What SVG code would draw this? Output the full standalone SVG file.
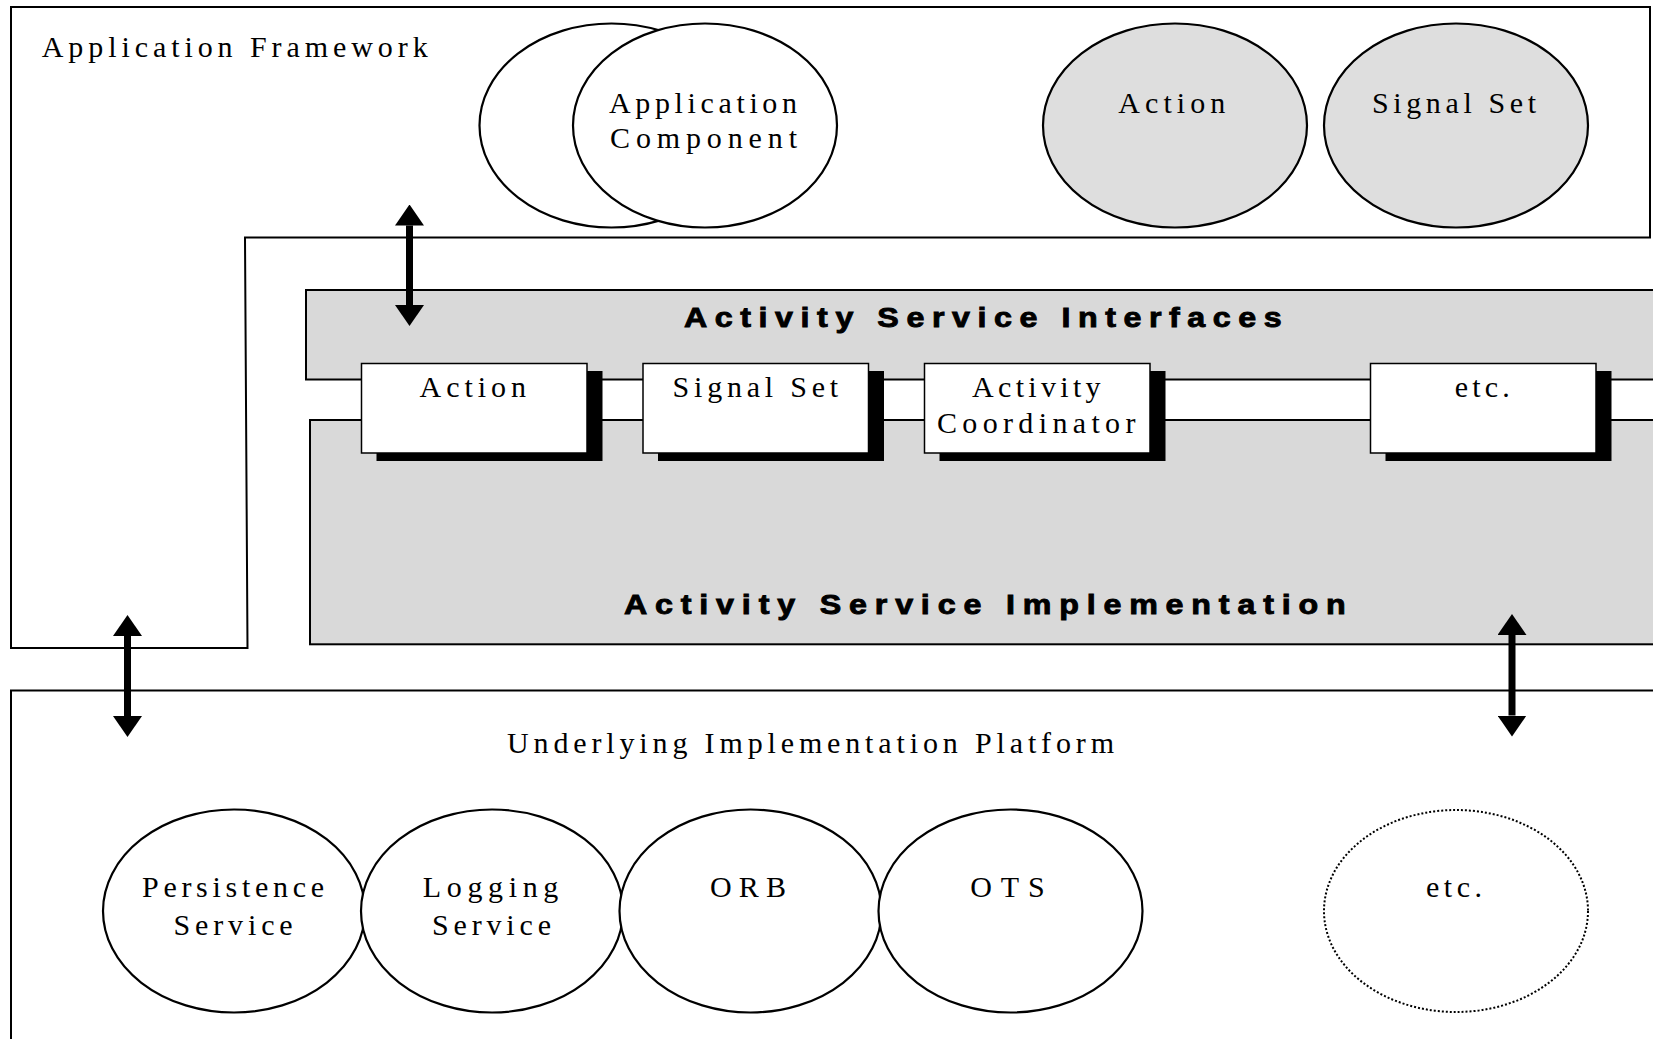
<svg xmlns="http://www.w3.org/2000/svg" width="1653" height="1039" viewBox="0 0 1653 1039">
<style>
.ln{fill:none;stroke:#000;stroke-width:2}
.ell{fill:#fff;stroke:#000;stroke-width:2.2}
.gell{fill:#dedede;stroke:#000;stroke-width:2.2}
.dot{fill:#fff;stroke:#000;stroke-width:2;stroke-dasharray:2 2}
.gray{fill:#d9d9d9;stroke:#000;stroke-width:2}
.box{fill:#fff;stroke:#000;stroke-width:1.5}
.shd{fill:#000}
.t{font-family:"Liberation Serif","Times New Roman",serif;font-size:30px;fill:#000}
.b{font-family:"Liberation Sans",Arial,sans-serif;font-size:28px;font-weight:bold;fill:#000;stroke:#000;stroke-width:0.9}
.arr{stroke:#000;stroke-width:7;fill:none}
</style>
<defs>
<marker id="ah" viewBox="0 0 21 29" refX="0" refY="14.5" markerWidth="21" markerHeight="29" markerUnits="userSpaceOnUse" orient="auto-start-reverse">
<path d="M0,0 L21,14.5 L0,29 Z" fill="#000"/>
</marker>
</defs>
<rect width="1653" height="1039" fill="#fff"/>

<g id="application-framework">
<path class="ln" d="M11,7 H1650 V237.5 H245 L247.5,648 H11 Z"/>
<text class="t" x="41.7" y="56.7" textLength="386" lengthAdjust="spacing">Application Framework</text>
</g>

<g id="application-component">
<ellipse class="ell" cx="611.5" cy="125.5" rx="132" ry="102"/>
<ellipse class="ell" cx="705" cy="125.5" rx="132" ry="102"/>
<text class="t" x="609" y="112.5" textLength="188" lengthAdjust="spacing">Application</text>
<text class="t" x="610" y="147.7" textLength="187" lengthAdjust="spacing">Component</text>
</g>

<g id="action-top">
<ellipse class="gell" cx="1175" cy="125.5" rx="132" ry="102"/>
<text class="t" x="1118.3" y="112.7" textLength="107" lengthAdjust="spacing">Action</text>
</g>

<g id="signalset-top">
<ellipse class="gell" cx="1456" cy="125.5" rx="132" ry="102"/>
<text class="t" x="1372" y="112.7" textLength="164" lengthAdjust="spacing">Signal Set</text>
</g>

<g id="activity-service-interfaces">
<rect class="gray" x="306" y="290" width="1360" height="89.5"/>
<text class="b" transform="scale(1.15,1)" x="594.8" y="326.7" textLength="519.7" lengthAdjust="spacing">Activity Service Interfaces</text>
</g>

<g id="activity-service-implementation">
<rect class="gray" x="310" y="420" width="1360" height="224.3"/>
<text class="b" transform="scale(1.15,1)" x="542.6" y="614.5" textLength="627.5" lengthAdjust="spacing">Activity Service Implementation</text>
</g>

<g id="if-action">
<rect class="shd" x="376.5" y="371" width="226" height="90"/>
<rect class="box" x="361.5" y="363.5" width="225.5" height="89.5"/>
<text class="t" x="419.6" y="396.7" textLength="106.4" lengthAdjust="spacing">Action</text>
</g>

<g id="if-signalset">
<rect class="shd" x="658" y="371" width="226" height="90"/>
<rect class="box" x="643" y="363.5" width="225.5" height="89.5"/>
<text class="t" x="672.6" y="396.7" textLength="165.5" lengthAdjust="spacing">Signal Set</text>
</g>

<g id="if-coordinator">
<rect class="shd" x="939.5" y="371" width="226" height="90"/>
<rect class="box" x="924.5" y="363.5" width="225.5" height="89.5"/>
<text class="t" x="972" y="396.7" textLength="128.6" lengthAdjust="spacing">Activity</text>
<text class="t" x="937" y="433.3" textLength="198.4" lengthAdjust="spacing">Coordinator</text>
</g>

<g id="if-etc">
<rect class="shd" x="1385.5" y="371" width="226" height="90"/>
<rect class="box" x="1370.5" y="363.5" width="225.5" height="89.5"/>
<text class="t" x="1454.8" y="396.7" textLength="55" lengthAdjust="spacing">etc.</text>
</g>

<g id="underlying-platform">
<rect class="ln" x="11" y="690.5" width="1660" height="400"/>
<text class="t" x="507" y="752.7" textLength="607" lengthAdjust="spacing">Underlying Implementation Platform</text>
</g>

<g id="persistence">
<ellipse class="ell" cx="234" cy="911" rx="131" ry="101.5"/>
<text class="t" x="142" y="896.7" textLength="182" lengthAdjust="spacing">Persistence</text>
<text class="t" x="173.4" y="935" textLength="119.3" lengthAdjust="spacing">Service</text>
</g>

<g id="logging">
<ellipse class="ell" cx="492" cy="911" rx="131" ry="101.5"/>
<text class="t" x="422.8" y="896.7" textLength="135.5" lengthAdjust="spacing">Logging</text>
<text class="t" x="432" y="935" textLength="119" lengthAdjust="spacing">Service</text>
</g>

<g id="orb">
<ellipse class="ell" cx="750.5" cy="911" rx="131" ry="101.5"/>
<text class="t" x="710" y="896.7" textLength="76" lengthAdjust="spacing">ORB</text>
</g>

<g id="ots">
<ellipse class="ell" cx="1010.5" cy="911" rx="132" ry="101.5"/>
<text class="t" x="970.3" y="896.7" textLength="74.3" lengthAdjust="spacing">OTS</text>
</g>

<g id="etc-bottom">
<ellipse class="dot" cx="1456" cy="911" rx="132" ry="101"/>
<text class="t" x="1426" y="896.7" textLength="56" lengthAdjust="spacing">etc.</text>
</g>

<g id="connectors">
<line class="arr" x1="409.5" y1="225.5" x2="409.5" y2="305" marker-start="url(#ah)" marker-end="url(#ah)"/>
<line class="arr" x1="127.5" y1="636" x2="127.5" y2="716" marker-start="url(#ah)" marker-end="url(#ah)"/>
<line class="arr" x1="1512" y1="635" x2="1512" y2="715.5" marker-start="url(#ah)" marker-end="url(#ah)"/>
</g>
</svg>
